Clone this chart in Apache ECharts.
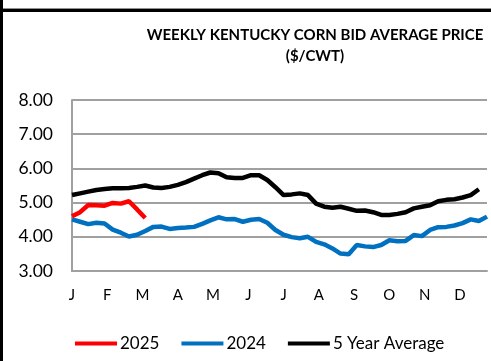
<!DOCTYPE html>
<html>
<head>
<meta charset="utf-8">
<script src="https://cdn.jsdelivr.net/npm/echarts@6/dist/echarts.min.js"></script>
<style>
html,body{margin:0;padding:0;background:#fff;}
#chart{width:491px;height:361px;}
</style>
</head>
<body>
<div id="chart"></div>
<script>
// Tick labels (months, placed every 52/12 weeks)
const months = ['J','F','M','A','M','J','J','A','S','O','N','D'];
// Weekly values ($/CWT), week index 0..51
const y2025 = [4.60,4.72,4.93,4.92,4.91,4.99,4.97,5.04,4.80,4.55];
const y2024 = [4.51,4.44,4.37,4.41,4.39,4.21,4.12,4.01,4.06,4.17,
               4.29,4.30,4.23,4.26,4.27,4.29,4.38,4.48,4.57,4.51,
               4.52,4.44,4.50,4.52,4.41,4.20,4.06,3.99,3.96,4.00,
               3.85,3.78,3.66,3.51,3.49,3.76,3.72,3.70,3.76,3.90,
               3.87,3.88,4.05,4.02,4.20,4.28,4.29,4.33,4.40,4.51,
               4.46,4.59];
const avg5 = [5.22,5.27,5.32,5.37,5.40,5.42,5.42,5.43,5.46,5.50,
              5.44,5.43,5.46,5.52,5.60,5.70,5.80,5.88,5.86,5.74,
              5.72,5.72,5.80,5.80,5.66,5.45,5.22,5.24,5.27,5.22,
              4.97,4.88,4.85,4.88,4.82,4.76,4.77,4.72,4.64,4.64,
              4.67,4.72,4.83,4.88,4.92,5.04,5.08,5.10,5.15,5.22,
              5.39];
const seriesNames = ['2025','2024','5 Year Average'];

const toPairs = arr => arr.map((v,i)=>[i,v]);
const FONT = 'Lato';
const monthStep = 52/12;

const chart = echarts.init(document.getElementById('chart'), null, {renderer:'canvas'});
chart.setOption({
  animation:false,
  backgroundColor:'#fff',
  textStyle:{fontFamily:FONT},
  title:{
    text:'WEEKLY KENTUCKY CORN BID AVERAGE PRICE\n($/CWT)',
    left:310, top:20, textAlign:'center',
    textStyle:{fontFamily:FONT,fontSize:15,fontWeight:'bold',color:'#000',lineHeight:21}
  },
  grid:{left:72,right:4,top:100,bottom:90},
  xAxis:{
    type:'value', min:0, max:51, interval:monthStep,
    axisLine:{show:true,lineStyle:{color:'#a0a0a0',width:2}},
    axisTick:{show:false},
    splitLine:{show:false},
    axisLabel:{
      showMaxLabel:false, margin:17,
      fontFamily:FONT, fontSize:15, color:'#000',
      formatter:v=>{const k=Math.round(v/monthStep); return k>=0&&k<12?months[k]:'';}
    }
  },
  yAxis:{
    type:'value', min:3, max:8, interval:1,
    axisLine:{show:true,lineStyle:{color:'#a0a0a0',width:2}},
    axisTick:{show:false},
    splitLine:{show:true,lineStyle:{color:'#a0a0a0',width:2}},
    axisLabel:{margin:19,fontFamily:FONT,fontSize:17.5,color:'#000',formatter:v=>v.toFixed(2)}
  },
  legend:{
    left:70, top:330, icon:'rect', itemWidth:42, itemHeight:4, itemGap:22,
    textStyle:{fontFamily:FONT,fontSize:17,color:'#000',padding:[0,0,0,-2]},
    data:seriesNames
  },
  series:[
    {name:seriesNames[0],type:'line',data:toPairs(y2025),showSymbol:false,symbol:'none',
     lineStyle:{color:'#ff0000',width:4.5},itemStyle:{color:'#ff0000'},z:4},
    {name:seriesNames[1],type:'line',data:toPairs(y2024),showSymbol:false,symbol:'none',
     lineStyle:{color:'#0070c0',width:4.5},itemStyle:{color:'#0070c0'},z:3},
    {name:seriesNames[2],type:'line',data:toPairs(avg5),showSymbol:false,symbol:'none',
     lineStyle:{color:'#000000',width:4.5},itemStyle:{color:'#000000'},z:2}
  ],
  graphic:[
    {type:'rect',shape:{x:0,y:8,width:491,height:1},style:{fill:'#909090'},silent:true},
    {type:'rect',shape:{x:0,y:9,width:491,height:3},style:{fill:'#000'},silent:true},
    {type:'rect',shape:{x:0,y:0,width:3,height:361},style:{fill:'#000'},silent:true}
  ]
});
</script>
</body>
</html>
